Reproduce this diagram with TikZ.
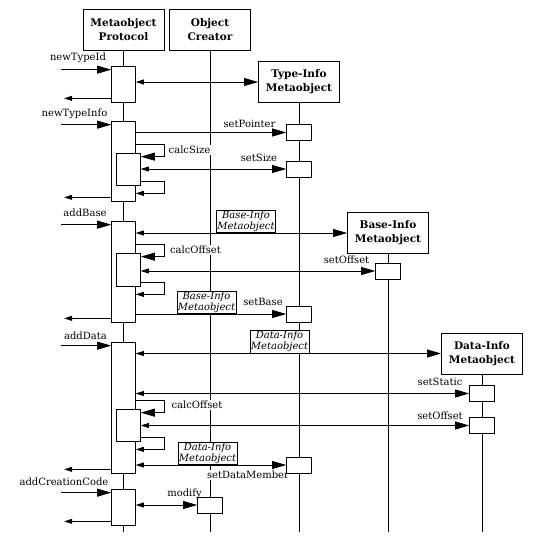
\documentclass[tikz,border=0pt]{standalone}
\usepackage{fontspec}
\setmainfont{DejaVu Serif}
\usetikzlibrary{arrows.meta}

\begin{document}
\begin{tikzpicture}[
  hdr/.style={draw, line width=0.9pt, fill=white, minimum width=81pt, minimum height=41pt, inner sep=0pt, align=center, font=\fontsize{10.5}{14}\selectfont\bfseries},
  act/.style={draw, line width=0.7pt, fill=white, minimum width=24pt, inner sep=0pt},
  tgt/.style={draw, line width=0.7pt, fill=white, minimum width=25pt, minimum height=16pt, inner sep=0pt},
  lbl/.style={fill=white, inner sep=1pt, font=\fontsize{10}{11}\selectfont},
  obj/.style={draw, line width=0.6pt, fill=white, inner sep=1pt, align=center, font=\fontsize{10}{11}\selectfont\itshape},
  life/.style={line width=0.7pt},
  call/.style={line width=0.7pt, -{Triangle[length=14pt,width=8pt]}},
  ret/.style={line width=0.7pt, -{Triangle[length=8pt,width=5pt]}},
  both/.style={line width=0.7pt, {Triangle[length=8pt,width=5pt]}-{Triangle[length=14pt,width=8pt]}}
]
\useasboundingbox (0pt,0pt) rectangle (535pt,-538pt);
% objects
\node (mp) [hdr] at (123.5pt,-29.5pt) {Metaobject\\Protocol};
\node (oc) [hdr] at (210pt,-29.5pt) {Object\\Creator};
\node (ti) [hdr] at (299pt,-82pt) {Type-Info\\Metaobject};
\node (bi) [hdr] at (388pt,-233pt) {Base-Info\\Metaobject};
\node (di) [hdr] at (482pt,-353.5pt) {Data-Info\\Metaobject};
% lifelines
\draw [life] (mp.south) -- (mp.south |- 0,-532pt);
\draw [life] (oc.south) -- (oc.south |- 0,-532pt);
\draw [life] (ti.south) -- (ti.south |- 0,-532pt);
\draw [life] (bi.south) -- (bi.south |- 0,-532pt);
\draw [life] (di.south) -- (di.south |- 0,-532pt);
% labels
\node (t1) [lbl] at (78pt,-58pt) {newTypeId};
\node (t2) [lbl] at (74.5pt,-114pt) {newTypeInfo};
\node (t3) [lbl] at (189.5pt,-150pt) {calcSize};
\node (t4) [lbl] at (249.5pt,-124pt) {setPointer};
\node (t5) [lbl] at (259pt,-158pt) {setSize};
\node (t6) [lbl] at (85pt,-213pt) {addBase};
\node (t7) [obj, anchor=south] at (246pt,-233pt) {Base-Info\\Metaobject};
\node (t8) [lbl] at (195.5pt,-250pt) {calcOffset};
\node (t9) [lbl] at (346.5pt,-260pt) {setOffset};
\node (t10) [obj, anchor=south] at (206.5pt,-314pt) {Base-Info\\Metaobject};
\node (t11) [lbl] at (263pt,-302pt) {setBase};
\node (t12) [lbl] at (85.5pt,-336pt) {addData};
\node (t13) [obj, anchor=south] at (279.5pt,-353.5pt) {Data-Info\\Metaobject};
\node (t14) [lbl] at (440pt,-382pt) {setStatic};
\node (t15) [lbl] at (197pt,-405pt) {calcOffset};
\node (t16) [lbl] at (440pt,-416pt) {setOffset};
\node (t17) [obj, anchor=south] at (207.5pt,-465pt) {Data-Info\\Metaobject};
\node (t18) [lbl] at (248pt,-475pt) {setDataMember};
\node (t19) [lbl] at (64pt,-482pt) {addCreationCode};
\node (t20) [lbl] at (184.5pt,-494pt) {modify};
% activations
\node (a1) [act, minimum height=36pt] at (123.5pt,-84pt) {};
\node (a2) [act, minimum height=80pt] at (123.5pt,-161pt) {};
\node (a2n) [act, minimum height=32pt] at (128.5pt,-169pt) {};
\node (a3) [act, minimum height=101pt] at (123.5pt,-271.5pt) {};
\node (a3n) [act, minimum height=33pt] at (128.5pt,-269.5pt) {};
\node (a4) [act, minimum height=131pt] at (123.5pt,-407.5pt) {};
\node (a4n) [act, minimum height=32pt] at (128.5pt,-425pt) {};
\node (a5) [act, minimum height=36pt] at (123.5pt,-507pt) {};
\node (sp) [tgt] at (299pt,-132.5pt) {};
\node (ss) [tgt] at (299pt,-169pt) {};
\node (so1) [tgt] at (388pt,-271pt) {};
\node (sb) [tgt] at (299pt,-314pt) {};
\node (st) [tgt] at (482pt,-393.5pt) {};
\node (so2) [tgt] at (482pt,-425.5pt) {};
\node (sdm) [tgt] at (299pt,-465pt) {};
\node (md) [tgt] at (210pt,-505pt) {};
% free ends on the left
\coordinate (i1) at ([xshift=-50pt,yshift=-4pt]a1.north west);
\coordinate (o1) at ([xshift=-47pt,yshift=4pt]a1.south west);
\coordinate (i2) at ([xshift=-50pt,yshift=-4pt]a2.north west);
\coordinate (o2) at ([xshift=-47pt,yshift=4pt]a2.south west);
\coordinate (i3) at ([xshift=-50pt,yshift=-4pt]a3.north west);
\coordinate (o3) at ([xshift=-47pt,yshift=4pt]a3.south west);
\coordinate (i4) at ([xshift=-50pt,yshift=-4pt]a4.north west);
\coordinate (o4) at ([xshift=-47pt,yshift=4pt]a4.south west);
\coordinate (i5) at ([xshift=-50pt,yshift=-4pt]a5.north west);
\coordinate (o5) at ([xshift=-47pt,yshift=4pt]a5.south west);
% newTypeId
\draw [call] (i1) -- (i1 -| a1.west);
\draw [both] (a1.east |- ti.west) -- (ti.west);
\draw [ret] (o1 -| a1.west) -- (o1);
% newTypeInfo
\draw [call] (i2) -- (i2 -| a2.west);
\draw [call] (a2.east |- sp.west) -- (sp.west);
\draw [call] ([yshift=8pt]a2n.north -| a2.east) -| ++(28pt,-12pt) -- ([yshift=-4pt]a2n.north east);
\draw [both] (a2n.east |- ss.west) -- (ss.west);
\draw [ret] ([yshift=4pt]a2n.south east) -| ++(23pt,-12pt) -- ([yshift=-8pt]a2n.south -| a2.east);
\draw [ret] (o2 -| a2.west) -- (o2);
% addBase
\draw [call] (i3) -- (i3 -| a3.west);
\draw [both] (a3.east |- bi.west) -- (bi.west);
\draw [call] ([yshift=8pt]a3n.north -| a3.east) -| ++(28pt,-12pt) -- ([yshift=-4pt]a3n.north east);
\draw [both] (a3n.east |- so1.west) -- (so1.west);
\draw [ret] ([yshift=4pt]a3n.south east) -| ++(23pt,-12pt) -- ([yshift=-8pt]a3n.south -| a3.east);
\draw [call] (a3.east |- sb.west) -- (sb.west);
\draw [ret] (o3 -| a3.west) -- (o3);
% addData
\draw [call] (i4) -- (i4 -| a4.west);
\draw [both] (a4.east |- di.west) -- (di.west);
\draw [both] (a4.east |- st.west) -- (st.west);
\draw [call] ([yshift=8pt]a4n.north -| a4.east) -| ++(28pt,-12pt) -- ([yshift=-4pt]a4n.north east);
\draw [both] (a4n.east |- so2.west) -- (so2.west);
\draw [ret] ([yshift=4pt]a4n.south east) -| ++(23pt,-12pt) -- ([yshift=-8pt]a4n.south -| a4.east);
\draw [both] (a4.east |- sdm.west) -- (sdm.west);
\draw [ret] (o4 -| a4.west) -- (o4);
% addCreationCode
\draw [call] (i5) -- (i5 -| a5.west);
\draw [both] (a5.east |- md.west) -- (md.west);
\draw [ret] (o5 -| a5.west) -- (o5);
\end{tikzpicture}
\end{document}
